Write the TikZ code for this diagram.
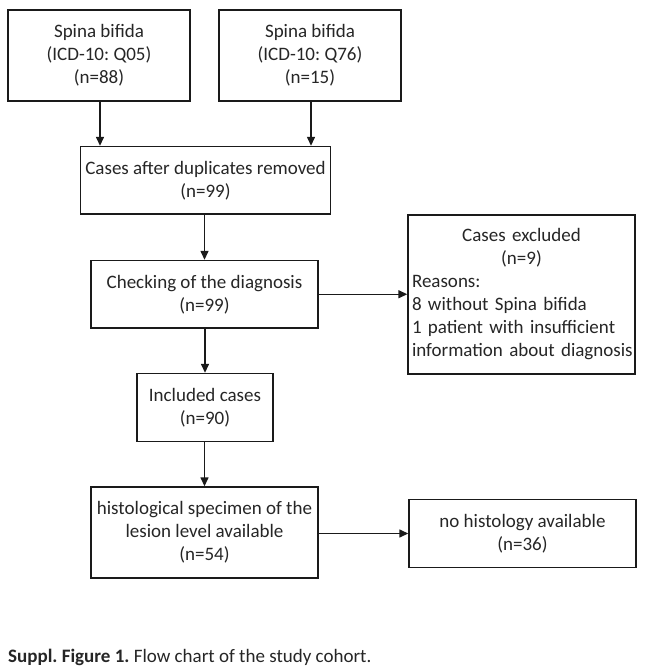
\documentclass[tikz,border=0pt]{standalone}
\usepackage{fontspec}
\setmainfont{Carlito}
\usetikzlibrary{arrows.meta}
\definecolor{txt}{HTML}{262626}
\definecolor{ln}{HTML}{1A1A1A}
\frenchspacing
\hyphenpenalty=10000
\begin{document}
\begin{tikzpicture}[x=1pt,y=-1pt,
  box/.style={draw=ln,line width=1.4pt,rectangle,inner sep=0pt,align=center,text=txt,
    font=\fontsize{19}{23}\selectfont\frenchspacing},
  arr/.style={draw=ln,line width=1.4pt,-{Triangle[length=9pt,width=8pt]}}]
\useasboundingbox[fill=white] (0,0) rectangle (644,668);
\node[box,minimum width=182pt,minimum height=91pt] (q05) at (99,55.5) {Spina bifida\\(ICD-10: Q05)\\(n=88)};
\node[box,minimum width=182pt,minimum height=91pt] (q76) at (310,55.5) {Spina bifida\\(ICD-10: Q76)\\(n=15)};
\node[box,minimum width=250pt,minimum height=67.5pt] (dup) at (205.5,180.25) {Cases after duplicates removed\\(n=99)};
\node[box,minimum width=227pt,minimum height=67.5pt] (chk) at (204.5,294.25) {Checking of the diagnosis\\(n=99)};
\node[box,minimum width=227pt,minimum height=159pt,align=left,text width=219pt] (exc) at (521.5,294.5)
  {\makebox[\linewidth][c]{Cases excluded}\\\makebox[\linewidth][c]{(n=9)}\\Reasons:\\8 without Spina bifida\\1 patient with insufficient\\\mbox{information about diagnosis}};
\node[box,minimum width=136pt,minimum height=68pt] (inc) at (205,407.5) {Included cases\\(n=90)};
\node[box,minimum width=227pt,minimum height=91pt] (his) at (204.5,532.5) {histological specimen of the\\lesion level available\\(n=54)};
\node[box,minimum width=227pt,minimum height=68pt] (noh) at (522.5,533.5) {no histology available\\(n=36)};
\coordinate (a1) at (100,101);
\coordinate (a2) at (311,101);
\draw[arr] (a1) -- (a1 |- dup.north);
\draw[arr] (a2) -- (a2 |- dup.north);
\draw[arr] (dup.south -| chk.north) -- (chk.north);
\draw[arr] (chk.east) -- (exc.west |- chk.east);
\draw[arr] (chk.south -| inc.north) -- (inc.north);
\draw[arr] (inc.south -| his.north) -- (his.north);
\draw[arr] (his.east |- noh.west) -- (noh.west);
\node[anchor=base west,inner sep=0pt,text=txt,font=\fontsize{19}{23}\selectfont\frenchspacing] (cap) at (8,662)
  {\textbf{Suppl. Figure 1.} Flow chart of the study cohort.};
\end{tikzpicture}
\end{document}
